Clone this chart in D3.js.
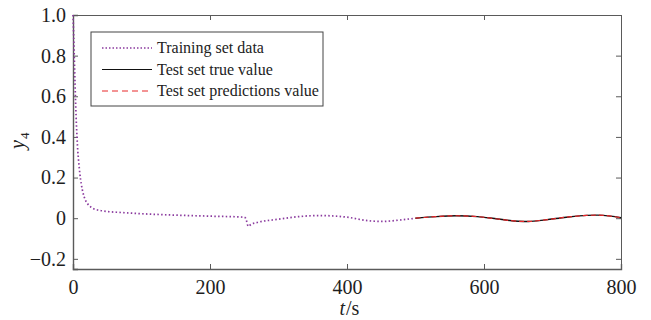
<!DOCTYPE html>
<html>
<head>
<meta charset="utf-8">
<script src="https://cdn.jsdelivr.net/npm/d3@7"></script>
<style>
  body { margin: 0; background: #fff; }
</style>
</head>
<body>
<div id="plot"></div>
<script>
// Training set (t, y4)
var trainT = [0, 1, 2, 3, 4, 5, 6, 7, 8, 10, 12, 15, 18, 22, 26, 30, 40, 50, 70, 100, 150, 200, 250, 252, 256, 260, 270, 300, 330, 360, 400, 430, 450, 480, 500];
var trainY = [1.0, 0.9, 0.78, 0.66, 0.55, 0.46, 0.39, 0.33, 0.29, 0.22, 0.17, 0.12, 0.09, 0.068, 0.055, 0.047, 0.038, 0.033, 0.028, 0.022, 0.015, 0.01, 0.005, 0.0, -0.04, -0.03, -0.02, -0.005, 0.008, 0.013, 0.005, -0.012, -0.016, -0.008, 0.0];

// Test set true / predicted
var testT = [500, 530, 560, 590, 620, 650, 665, 690, 720, 750, 765, 785, 800];
var testTrue = [0.0, 0.008, 0.012, 0.008, -0.004, -0.015, -0.016, -0.008, 0.005, 0.014, 0.015, 0.01, 0.002];
var testPred = [0.0, 0.008, 0.012, 0.008, -0.004, -0.015, -0.016, -0.008, 0.005, 0.014, 0.015, 0.01, 0.002];

var xTicks = [0, 200, 400, 600, 800];
var yTicks = [-0.2, 0, 0.2, 0.4, 0.6, 0.8, 1.0];
var legendLabels = ["Training set data", "Test set true value", "Test set predictions value"];

var FONT = "'Liberation Serif', 'Times New Roman', serif";

var margin = { top: 15, right: 30, bottom: 51, left: 73 },
    width = 651 - margin.left - margin.right,
    height = 320 - margin.top - margin.bottom;

var svg = d3.select("div#plot")
    .append("svg")
    .attr("width", 651)
    .attr("height", 320)
    .append("g")
    .attr("transform", "translate(" + margin.left + "," + margin.top + ")");

var xScale = d3.scaleLinear().domain([0, 800]).range([0, width]);
var yScale = d3.scaleLinear().domain([-0.25, 1.0]).range([height, 0]);

var fmtY = function (d) { return d === 0 ? "0" : d3.format(".1f")(d).replace("-", "\u2212"); };

// axes with inward ticks
var axisColor = "#5a5a5a";
var xAxis = svg.append("g")
    .attr("transform", "translate(0," + height + ")")
    .call(d3.axisBottom(xScale).tickValues(xTicks).tickSize(-5).tickPadding(11));
var yAxis = svg.append("g")
    .call(d3.axisLeft(yScale).tickValues(yTicks).tickSize(-5).tickPadding(7).tickFormat(fmtY));
var xTop = svg.append("g")
    .call(d3.axisTop(xScale).tickValues(xTicks).tickSize(-5).tickFormat(""));
var yRight = svg.append("g")
    .attr("transform", "translate(" + width + ",0)")
    .call(d3.axisRight(yScale).tickValues(yTicks).tickSize(-5).tickFormat(""));

[xAxis, yAxis, xTop, yRight].forEach(function (g) {
    g.attr("font-family", null).attr("font-size", null);
    g.select(".domain").attr("stroke", axisColor).attr("stroke-width", 1.4);
    g.selectAll(".tick line").attr("stroke", axisColor);
    g.selectAll(".tick text")
        .style("font-family", FONT)
        .style("font-size", "20px")
        .attr("fill", "#1e1e1e");
});
xTop.select(".domain").attr("stroke-width", 1);
yRight.select(".domain").attr("stroke-width", 1);

// lines
var line = d3.line()
    .x(function (d) { return xScale(d[0]); })
    .y(function (d) { return yScale(d[1]); })
    .curve(d3.curveMonotoneX);

svg.append("path")
    .datum(d3.zip(trainT, trainY))
    .attr("fill", "none")
    .attr("stroke", "#8a3a9e")
    .attr("stroke-width", 1.7)
    .attr("stroke-dasharray", "1.5,2.3")
    .attr("d", line);

svg.append("path")
    .datum(d3.zip(testT, testTrue))
    .attr("fill", "none")
    .attr("stroke", "#111")
    .attr("stroke-width", 1.4)
    .attr("d", line);

svg.append("path")
    .datum(d3.zip(testT, testPred))
    .attr("fill", "none")
    .attr("stroke", "#e8282a")
    .attr("stroke-width", 1.2)
    .attr("stroke-dasharray", "5,3")
    .attr("d", line);

// legend
var lg = svg.append("g").attr("transform", "translate(" + (91 - margin.left) + "," + (32 - margin.top) + ")");
lg.append("rect")
    .attr("width", 232).attr("height", 74)
    .attr("fill", "#fff").attr("stroke", "#444").attr("stroke-width", 1);
var styles = [
    { stroke: "#8a3a9e", dash: "1.5,2", w: 1.6 },
    { stroke: "#111", dash: null, w: 1.2 },
    { stroke: "#e8282a", dash: "6,4", w: 1.2 }
];
legendLabels.forEach(function (lab, i) {
    var yy = 16 + i * 21.5;
    lg.append("line")
        .attr("x1", 11).attr("x2", 61).attr("y1", yy).attr("y2", yy)
        .attr("stroke", styles[i].stroke)
        .attr("stroke-width", styles[i].w)
        .attr("stroke-dasharray", styles[i].dash);
    lg.append("text")
        .attr("x", 66).attr("y", yy + 5)
        .style("font-family", FONT)
        .style("font-size", "16px")
        .attr("fill", "#222")
        .text(lab);
});

// axis labels (separate pieces to keep italics)
var xl = xScale(400);
svg.append("text")
    .attr("x", xl - 2).attr("y", height + 46)
    .style("text-anchor", "end")
    .style("font-family", FONT).style("font-size", "20px").style("font-style", "italic")
    .attr("fill", "#222")
    .text("t");
svg.append("text")
    .attr("x", xl - 1).attr("y", height + 46)
    .style("text-anchor", "start")
    .style("font-family", FONT).style("font-size", "20px")
    .attr("fill", "#222")
    .text("/s");

var yl = svg.append("g").attr("transform", "translate(-49," + (yScale(0.4) + 12) + ") rotate(-90)");
yl.append("text")
    .attr("x", 0).attr("y", 0)
    .style("text-anchor", "start")
    .style("font-family", FONT).style("font-size", "20px").style("font-style", "italic")
    .attr("fill", "#222")
    .text("y");
yl.append("text")
    .attr("x", 10).attr("y", 5)
    .style("text-anchor", "start")
    .style("font-family", FONT).style("font-size", "13px")
    .attr("fill", "#222")
    .text("4");
</script>
</body>
</html>
